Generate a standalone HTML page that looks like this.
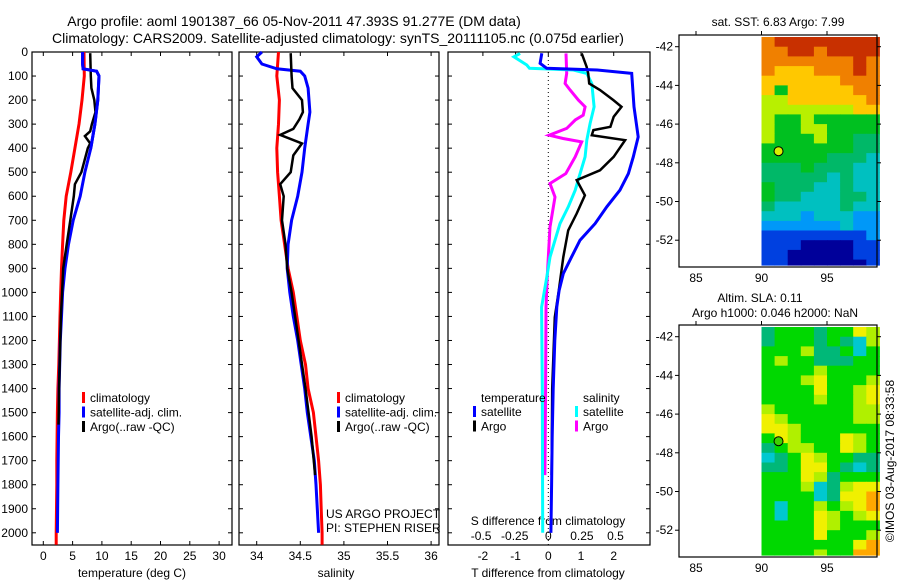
<!DOCTYPE html>
<html><head><meta charset="utf-8"><style>
body{margin:0;background:#fff}
svg{display:block}
text{font-family:"Liberation Sans",sans-serif;font-size:12px;fill:#000}
</style></head><body>
<svg id="c" width="900" height="580" viewBox="0 0 900 580" xmlns="http://www.w3.org/2000/svg">
<text x="294" y="26" text-anchor="middle" style="font-size:14px">Argo profile: aoml 1901387_66 05-Nov-2011 47.393S 91.277E (DM data)</text>
<text x="338" y="43" text-anchor="middle" style="font-size:14px">Climatology: CARS2009. Satellite-adjusted climatology: synTS_20111105.nc (0.075d earlier)</text>
<g id="g"></g>
</svg>
<script>
// ---- depth axis
const depthTicks=[0,100,200,300,400,500,600,700,800,900,1000,1100,1200,1300,1400,1500,1600,1700,1800,1900,2000];
// ---- temperature panel data
const tClimD=[0,100,200,300,400,500,600,700,800,900,1000,1100,1200,1300,1400,1500,1600,1700,1800,1900,2000,2050];
const tClimV=[6.95,7.0,6.6,6.1,5.4,4.7,3.9,3.5,3.3,3.1,2.97,2.85,2.75,2.65,2.5,2.4,2.35,2.3,2.3,2.25,2.2,2.2];
const tSatD=[0,50,70,80,100,200,300,400,500,600,700,800,900,1000,1100,1200,1300,1400,1500,1600,1800,2000];
const tSatV=[6.7,6.7,6.8,9.1,9.5,9.3,8.8,8.1,7.1,6.3,5.1,4.3,3.7,3.3,3.1,2.9,2.8,2.7,2.7,2.6,2.5,2.4];
const tArgoD=[5,100,150,200,250,300,330,350,380,400,500,550,600,700,800,900,1000,1100,1200,1400,1550];
const tArgoV=[8.0,8.1,8.2,8.7,8.9,8.3,8.0,7.1,8.0,7.6,6.5,5.4,5.2,4.6,4.0,3.4,3.2,3.0,2.9,2.7,2.6];
// ---- salinity panel data
const sClimD=[0,100,200,300,400,500,600,700,800,900,1000,1100,1200,1300,1400,1500,1600,1700,1800,1900,2000,2050];
const sClimV=[34.25,34.23,34.26,34.25,34.23,34.24,34.26,34.28,34.32,34.36,34.42,34.46,34.5,34.56,34.59,34.65,34.68,34.71,34.73,34.74,34.75,34.75];
const sSatD=[0,20,50,70,80,100,150,250,300,400,500,600,700,800,900,1000,1100,1200,1300,1400,1500,1700,1800,2000];
const sSatV=[34.06,34.0,34.06,34.23,34.5,34.55,34.59,34.61,34.59,34.55,34.52,34.47,34.40,34.36,34.35,34.38,34.42,34.47,34.51,34.55,34.58,34.66,34.68,34.71];
const sArgoD=[5,100,150,200,250,280,320,345,380,430,500,550,600,700,800,900,1000,1100,1200,1400,1600,1760];
const sArgoV=[34.39,34.40,34.41,34.52,34.53,34.49,34.42,34.27,34.52,34.42,34.39,34.27,34.31,34.29,34.33,34.35,34.40,34.44,34.48,34.56,34.63,34.67];
// ---- difference panel data
const dTSatD=[5,47,68,75,89,228,353,436,506,575,644,714,783,853,922,992,1061,1200,1400,1600,1800,2000];
const dTSatV=[-0.2,-0.25,-0.05,1.5,2.55,2.62,2.75,2.6,2.45,2.19,1.79,1.43,0.97,0.71,0.46,0.33,0.26,0.2,0.15,0.12,0.1,0.08];
const dTArgoD=[6,61,89,131,158,200,228,269,311,325,346,367,436,492,533,596,672,742,853,992,1103,1400,1760];
const dTArgoV=[1.02,1.17,1.22,1.25,1.58,1.99,2.24,2.0,1.9,1.38,1.33,2.35,2.0,1.58,0.87,1.12,0.87,0.61,0.46,0.32,0.2,0.12,0.1];
const dSSatD=[6,20,54,68,75,89,131,228,297,367,436,506,575,644,714,783,853,922,1061,1400,2000];
const dSSatV=[-0.21,-0.256,-0.16,-0.14,0.187,0.287,0.324,0.341,0.311,0.287,0.274,0.237,0.2,0.149,0.087,0.05,0.013,-0.007,-0.05,-0.045,-0.042];
const dSArgoD=[6,89,131,158,200,228,263,283,318,346,360,374,436,506,547,603,728,922,1061,1400,1760];
const dSArgoV=[0.132,0.137,0.125,0.162,0.224,0.274,0.26,0.2,0.137,0.007,0.11,0.249,0.2,0.13,0.013,0.05,0.013,-0.007,-0.017,-0.02,-0.025];
// ---- maps (colour level per 1deg lon x 0.5deg lat cell, lon 90..99, lat -41.5 downward)
const sstRows=["899999999","889989999","888888898","877788898","777777888","757777788","667777778","666666677","655655555","655665555","655565544","555555544","555554443","444544433","444443433","544433433","544333443","433333433","333233322","222222322","111111112","111000011","110000011","110000001"];
const slaRows=["455545576","455545436","555644535","565544455","555565555","555675556","555575567","555565567","655555566","765555566","776555555","576555765","456655765","345765544","445775434","555764555","555634677","555534778","535565678","535576567","555576555","555575556","555555578","555565588"];
const sstColors=["#00009a","#0040e0","#0098f8","#00c0c0","#00b868","#00c020","#b8f000","#ffc800","#f08000","#c83000"];
const slaColors=["#00009a","#0040e0","#0098f8","#00c8d0","#00b878","#00d800","#b0f000","#f0f000","#ffa800","#f07000"];
const floatLon=91.3, floatLat=-47.4;

const NS="http://www.w3.org/2000/svg";
const G=document.getElementById('g');
function el(tag,attrs,parent){const e=document.createElementNS(NS,tag);for(const k in attrs)e.setAttribute(k,attrs[k]);(parent||G).appendChild(e);return e;}
function txt(x,y,s,anchor,parent){const t=el('text',{x:x,y:y,'text-anchor':anchor||'start'},parent);t.textContent=s;return t;}

const top0=52, bot=545;
const yD=d=>top0+d*0.2404;
const xT=v=>43.3+v*5.86;
const xS=v=>256.7+(v-34)*87.2;
const xDT=v=>548.3+v*32.7;
const xDS=v=>548.3+v*134.3;

function panel(name,x0,x1){
  const g=el('g',{});
  
  
  el('rect',{x:x0,y:top0,width:x1-x0,height:bot-top0,fill:'none',stroke:'#000','stroke-width':1.2},g);
  depthTicks.forEach(d=>{el('line',{x1:x0,x2:x0+4,y1:yD(d),y2:yD(d),stroke:'#000'},g);el('line',{x1:x1,x2:x1-4,y1:yD(d),y2:yD(d),stroke:'#000'},g);});
  return g;
}
function line(g,name,D,V,fx,color,w){
  const p=el('polyline',{points:D.map((d,i)=>fx(V[i]).toFixed(1)+','+yD(d).toFixed(1)).join(' '),fill:'none',stroke:color,'stroke-width':w,'stroke-linejoin':'miter'},g);
  
  
}
const yl=el('g',{});


depthTicks.forEach(d=>txt(28,yD(d)+4,String(d),'end',yl));

const p1=panel('temperature-panel',32,232);
const tTicks=[0,5,10,15,20,25,30];
tTicks.forEach(v=>{el('line',{x1:xT(v),x2:xT(v),y1:top0,y2:top0+4,stroke:'#000'},p1);el('line',{x1:xT(v),x2:xT(v),y1:bot,y2:bot-4,stroke:'#000'},p1);txt(xT(v),560,String(v),'middle',p1);});
txt(132,577,'temperature (deg C)','middle',p1);
line(p1,'temp-climatology-line',tClimD,tClimV,xT,'#f00',3);
line(p1,'temp-satellite-line',tSatD,tSatV,xT,'#00f',3);
line(p1,'temp-argo-line',tArgoD,tArgoV,xT,'#000',2.5);
line(p1,'temp-satellite-line-top',tSatD.slice(0,8),tSatV.slice(0,8),xT,'#00f',3);

function legend(g,x,y,items){
  items.forEach((it,i)=>{const r=el('rect',{x:x,y:y+i*14.5-6,width:3,height:11,fill:it[1]},g);
    
    txt(x+8,y+i*14.5+4,it[0],'start',g);});
}
legend(p1,82,398,[['climatology','#f00'],['satellite-adj. clim.','#00f'],['Argo(..raw -QC)','#000']]);

const p2=panel('salinity-panel',239,439);
const sTicks=[34,34.5,35,35.5,36];
sTicks.forEach(v=>{el('line',{x1:xS(v),x2:xS(v),y1:top0,y2:top0+4,stroke:'#000'},p2);el('line',{x1:xS(v),x2:xS(v),y1:bot,y2:bot-4,stroke:'#000'},p2);txt(xS(v),560,String(v),'middle',p2);});
txt(336,577,'salinity','middle',p2);
line(p2,'sal-climatology-line',sClimD,sClimV,xS,'#f00',3);
line(p2,'sal-satellite-line',sSatD,sSatV,xS,'#00f',3);
line(p2,'sal-argo-line',sArgoD,sArgoV,xS,'#000',2.5);
legend(p2,337,398,[['climatology','#f00'],['satellite-adj. clim.','#00f'],['Argo(..raw -QC)','#000']]);
txt(326,518,'US ARGO PROJECT','start',p2);
txt(326,532,'PI: STEPHEN RISER','start',p2);

const p3=panel('difference-panel',448,650);
el('line',{x1:xDT(0),x2:xDT(0),y1:top0,y2:bot,stroke:'#000','stroke-dasharray':'1,3'},p3);
const dtTicks=[-2,-1,0,1,2];
dtTicks.forEach(v=>{el('line',{x1:xDT(v),x2:xDT(v),y1:top0,y2:top0+4,stroke:'#000'},p3);txt(xDT(v),560,String(v),'middle',p3);});
const dsTicks=[-0.5,-0.25,0,0.25,0.5];
dsTicks.forEach(v=>txt(xDS(v),540,String(v),'middle',p3));
txt(548,525,'S difference from climatology','middle',p3);
txt(548,577,'T difference from climatology','middle',p3);
line(p3,'dS-argo-line',dSArgoD,dSArgoV,xDS,'#f0f',3);
line(p3,'dS-satellite-line',dSSatD,dSSatV,xDS,'#0ff',3);
line(p3,'dT-argo-line',dTArgoD,dTArgoV,xDT,'#000',2.5);
line(p3,'dT-satellite-line',dTSatD,dTSatV,xDT,'#00f',3);
txt(481,402,'temperature','start',p3);
txt(583,402,'salinity','start',p3);
legend(p3,473,412,[['satellite','#00f'],['Argo','#000']]);
legend(p3,575,412,[['satellite','#0ff'],['Argo','#f0f']]);

const mLon=v=>696+(v-85)*13.1;
function map(name,yTop,rows,colors,dotColor){
  const g=el('g',{});
  
  
  const mLat=v=>yTop+11.7+(-42-v)*19.35;
  rows.forEach((r,i)=>{for(let j=0;j<r.length;j++){
    const y0=mLat(-41.5-i*0.5), y1=Math.min(mLat(-42-i*0.5),yTop+230);
    const c=el('rect',{x:mLon(90+j).toFixed(1),y:y0.toFixed(1),width:13.6,height:(y1-y0+0.6).toFixed(1),fill:colors[+r[j]]},g);
    
    
  }});
  el('rect',{x:679,y:yTop,width:198,height:232,fill:'none',stroke:'#000','stroke-width':1.2},g);
  [85,90,95].forEach(v=>{el('line',{x1:mLon(v),x2:mLon(v),y1:yTop,y2:yTop-4,stroke:'#000'},g);txt(mLon(v),yTop+247,String(v),'middle',g);});
  [-42,-44,-46,-48,-50,-52].forEach(v=>{el('line',{x1:679,x2:675,y1:mLat(v),y2:mLat(v),stroke:'#000'},g);el('line',{x1:877,x2:881,y1:mLat(v),y2:mLat(v),stroke:'#000'},g);txt(673,mLat(v)+4,String(v),'end',g);});
  const d=el('circle',{cx:mLon(floatLon),cy:mLat(floatLat),r:4.5,fill:dotColor,stroke:'#000','stroke-width':1},g);
  
  
}
map('sst-map',35,sstRows,sstColors,'#d8f000');
map('sla-map',325,slaRows,slaColors,'#40d000');
txt(778,26,'sat. SST: 6.83 Argo: 7.99','middle');
txt(760,302,'Altim. SLA: 0.11','middle');
txt(775,317,'Argo h1000: 0.046 h2000: NaN','middle');
const r=txt(0,0,'©IMOS 03-Aug-2017 08:33:58','middle');
r.setAttribute('transform','translate(894,461) rotate(-90)');


</script>
</body></html>
